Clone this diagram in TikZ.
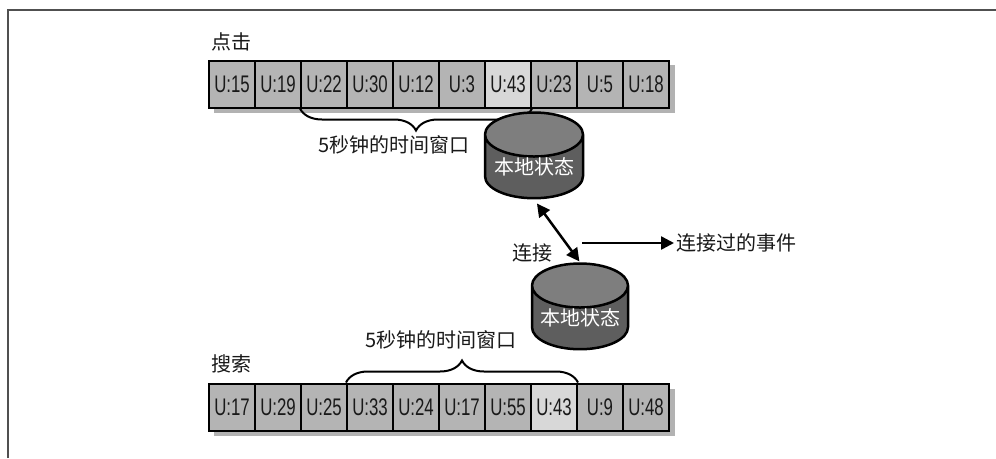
\documentclass[tikz,border=0pt]{standalone}
\usepackage{fontspec}
\setmainfont{Liberation Sans}
\newfontfamily\cellfont[FakeStretch=0.7]{Liberation Sans}
\newfontfamily\cjk{Noto Sans CJK SC}
\usetikzlibrary{shapes.geometric,decorations.pathreplacing,shadows,backgrounds,arrows.meta,calc}
\definecolor{cellgray}{HTML}{B4B4B4}
\definecolor{cellhi}{HTML}{D8D8D8}
\definecolor{cylbody}{HTML}{5E5E5E}
\definecolor{cyltop}{HTML}{7E7E7E}
\definecolor{framegray}{HTML}{505050}
\tikzset{
  cell/.style={draw=black, line width=2pt, fill=cellgray, minimum width=46pt, minimum height=47pt,
    inner sep=0pt, font=\cellfont\fontsize{24}{24}\selectfont, text=black!90},
  hcell/.style={cell, fill=cellhi},
  strip/.style={fill=black, opacity=0.3},
  lab/.style={font=\cjk\fontsize{20}{20}\selectfont, text=black!90, inner sep=2pt},
  store/.style={cylinder, shape border rotate=90, draw=black, line width=2.5pt, aspect=0.55,
    cylinder uses custom fill, cylinder body fill=cylbody, cylinder end fill=cyltop,
    minimum width=98pt, minimum height=70pt, inner sep=0pt,
    font=\cjk\fontsize{20}{20}\selectfont, text=white},
  brc/.style={decorate, line width=2pt, decoration={brace, amplitude=22pt}},
  arr/.style={line width=2.5pt, -{Triangle[length=13pt,width=13pt]}},
  dbl/.style={line width=2.5pt, {Triangle[length=13pt,width=13pt]}-{Triangle[length=13pt,width=13pt]}},
  framestyle/.style={draw=framegray, line width=1.5pt}
}
\begin{document}
\begin{tikzpicture}[x=1pt,y=-1pt]
\useasboundingbox (0,0) rectangle (996,458);
\fill[white] (0,0) rectangle (996,458);
\draw[framestyle] (8,458) -- (8,10) -- (996,10);

% top strip
\fill[strip] (214,65) rectangle (675,113);
\foreach \t/\s [count=\i] in {15/cell,19/cell,22/cell,30/cell,12/cell,3/cell,43/hcell,23/cell,5/cell,18/cell}
  \node[\s] (c\i) at ({209+23+46*(\i-1)},84) {U:\t};
% bottom strip
\fill[strip] (214,389) rectangle (675,436);
\foreach \t/\s [count=\i] in {17/cell,29/cell,25/cell,33/cell,24/cell,17/cell,55/cell,43/hcell,9/cell,48/cell}
  \node[\s] (d\i) at ({209+23+46*(\i-1)},407) {U:\t};

\node[lab] (click) at (231,42) {点击};
\node[lab] (search) at (231,364) {搜索};

% braces
\draw[brc, decoration={mirror}] (c3.south west) -- (c7.south east);
\draw[brc] (d4.north west) -- (d8.north east);
\node[lab] (w1) at (394,145) {5秒钟的时间窗口};
\node[lab] (w2) at (441,340) {5秒钟的时间窗口};

% local state stores
\node[store] (ls1) at (534,167) {本地状态};
\node[store, minimum width=96pt, minimum height=72pt] (ls2) at (580,318) {本地状态};

\draw[dbl, shorten <=5pt, shorten >=1pt] (ls1.south) -- (ls2.north);
\node[lab] (jn) at (532,253) {连接};

\coordinate (as) at (582,243);
\node[lab, anchor=west] (ev) at (674,243) {连接过的事件};
\draw[arr] (as) -- (ev.west);
\end{tikzpicture}
\end{document}
